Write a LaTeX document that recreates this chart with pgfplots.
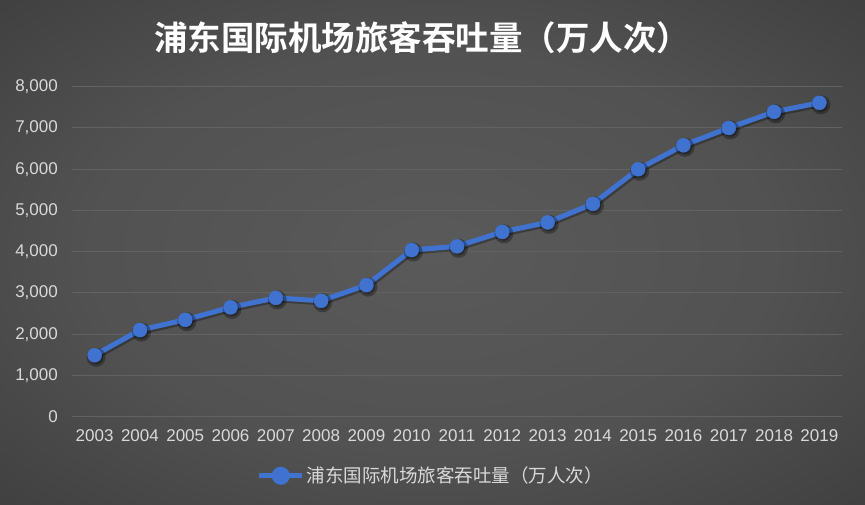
\documentclass[border=0pt]{standalone}
\usepackage{fontspec}
\setmainfont{Liberation Sans}
\newfontfamily\cjk{Noto Sans CJK SC}[BoldFont={Noto Sans CJK SC Bold}]
\usepackage{pgfplots}
\pgfplotsset{compat=1.18}
\definecolor{bgin}{RGB}{90,90,90}
\definecolor{bgout}{RGB}{34,34,34}
\definecolor{lblue}{RGB}{64,114,208}
\definecolor{ticktext}{RGB}{217,217,217}
\definecolor{gridc}{RGB}{98,98,98}
\pgfdeclareradialshading{bgshade}{\pgfpoint{0bp}{0bp}}{color(0bp)=(bgin); color(20bp)=(bgin!85!bgout); color(50bp)=(bgout!75!bgin); color(72bp)=(bgout)}
\begin{document}
\begin{tikzpicture}[x=1pt,y=1pt]
\shade[shading=bgshade] (0,0) rectangle (865,505);
\node[font=\cjk\bfseries\fontsize{33.5}{36}\selectfont, text=white] at (422,467) {浦东国际机场旅客吞吐量（万人次）};
\begin{axis}[
  at={(72pt,88.3pt)}, anchor=south west,
  scale only axis, width=770pt, height=330pt,
  xmin=-0.5, xmax=16.5, ymin=0, ymax=8000,
  ytick={0,1000,...,8000},
  xtick={0,...,16},
  xticklabels={2003,2004,2005,2006,2007,2008,2009,2010,2011,2012,2013,2014,2015,2016,2017,2018,2019},
  axis line style={draw=none},
  major tick length=0pt,
  ymajorgrids, grid style={gridc, line width=1pt},
  /pgf/number format/assume math mode=true,
  /pgf/number format/1000 sep={,},
  scaled y ticks=false,
  tick label style={font=\fontsize{17}{20}\selectfont, text=ticktext},
  yticklabel style={anchor=east, inner sep=0pt, xshift=-14pt},
  xticklabel style={anchor=north, inner sep=0pt, yshift=-13pt},
  clip=false,
  legend style={at={(0.466,-0.179)}, anchor=center, draw=none, fill=none,
    font=\cjk\fontsize{18.5}{20}\selectfont, text=ticktext},
  legend image code/.code={\draw[lblue, line width=5pt] (0pt,0pt) -- (43pt,0pt); \fill[lblue] (21.5pt,0pt) circle (6.5pt);},
]
\addplot[black, opacity=0.3, line width=5pt, mark=*, mark size=7pt, xshift=1.5pt, yshift=-2pt, forget plot]
  coordinates {(0,1490) (1,2100) (2,2350) (3,2650) (4,2880) (5,2810) (6,3190) (7,4040) (8,4130) (9,4480) (10,4710) (11,5160) (12,6000) (13,6580) (14,7000) (15,7390) (16,7610)};
\addplot[lblue, line width=5pt, mark=*, mark size=7pt, mark options={fill=lblue, draw=lblue, line width=0.5pt}]
  coordinates {(0,1490) (1,2100) (2,2350) (3,2650) (4,2880) (5,2810) (6,3190) (7,4040) (8,4130) (9,4480) (10,4710) (11,5160) (12,6000) (13,6580) (14,7000) (15,7390) (16,7610)};
\addlegendentry{浦东国际机场旅客吞吐量（万人次）}
\end{axis}
\pgfresetboundingbox
\path[use as bounding box] (0,0) rectangle (865,505);
\end{tikzpicture}
\end{document}
